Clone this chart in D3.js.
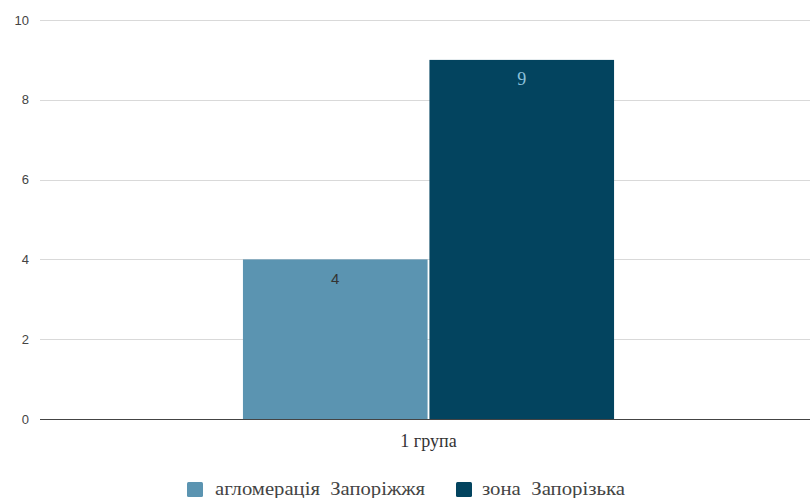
<!DOCTYPE html>
<html><head><meta charset="utf-8">
<script src="https://cdn.jsdelivr.net/npm/d3@7"></script>
<style>body{margin:0;background:#fff;} svg{display:block;}</style>
</head><body>
<svg id="c" width="810" height="498"></svg>
<script>
const categories = ["1 група"];
const seriesNames = ["агломерація  Запоріжжя", "зона  Запорізька"];
const seriesValues = [[4], [9]];
const yTicks = [0, 2, 4, 6, 8, 10];
const colors = ["#5b94b1", "#03445f"];
const labelColors = ["#333333", "#8cc0da"];

const SERIF = "'Liberation Serif'";
const SANS = "'Liberation Sans'";

const svg = d3.select("#c");
const mLeft = 40, mRight = 810, mTop = 20, mBottom = 419;

const y = d3.scaleLinear().domain([0, 10]).range([mBottom, mTop]);
const x0 = d3.scaleBand().domain(categories).range([47, mRight]).paddingInner(0).paddingOuter(0.528);
const x1 = d3.scaleBand().domain(seriesNames).range([0, x0.bandwidth()]).paddingInner(0.01);

// gridlines
svg.append("g").selectAll("line").data(yTicks.filter(d => d !== 0)).join("line")
  .attr("x1", mLeft).attr("x2", mRight)
  .attr("y1", d => Math.round(y(d)) + 0.5).attr("y2", d => Math.round(y(d)) + 0.5)
  .attr("stroke", "#d9d9d9").attr("stroke-width", 1);

// y tick labels
svg.append("g").selectAll("text").data(yTicks).join("text")
  .style("font-family", SANS).style("font-size", "13px")
  .attr("x", 29).attr("y", d => y(d)).attr("dy", "0.35em")
  .attr("text-anchor", "end")
  .attr("fill", "#444").text(d => d);

// bars
const groups = svg.append("g").selectAll("g").data(categories).join("g")
  .attr("transform", d => `translate(${x0(d)},0)`);

seriesNames.forEach((s, i) => {
  groups.append("rect")
    .attr("x", x1(s)).attr("width", x1.bandwidth())
    .attr("y", (d, j) => y(seriesValues[i][j]))
    .attr("height", (d, j) => y(0) - y(seriesValues[i][j]))
    .attr("fill", colors[i]);
  groups.append("text")
    .style("font-family", i === 0 ? SANS : SERIF).style("font-size", i === 0 ? "15px" : "18px")
    .attr("x", x1(s) + x1.bandwidth() / 2)
    .attr("y", (d, j) => y(seriesValues[i][j]) + 25)
    .attr("text-anchor", "middle")
    .attr("fill", labelColors[i])
    .text((d, j) => seriesValues[i][j]);
});

// baseline
svg.append("line").attr("x1", mLeft).attr("x2", mRight)
  .attr("y1", mBottom + 0.5).attr("y2", mBottom + 0.5)
  .attr("stroke", "#444").attr("stroke-width", 1.2);

// x labels
svg.append("g").selectAll("text").data(categories).join("text")
  .style("font-family", SERIF).style("font-size", "18px")
  .attr("x", d => x0(d) + x0.bandwidth() / 2).attr("y", 447)
  .attr("text-anchor", "middle")
  .attr("fill", "#333").text(d => d);

// legend
const legendX = [187, 456];
const legendW = [210, 143];
const lg = svg.append("g").selectAll("g").data(seriesNames).join("g")
  .attr("transform", (d, i) => `translate(${legendX[i]},482)`);
lg.append("rect").attr("width", 16).attr("height", 15).attr("rx", 1.5)
  .attr("fill", (d, i) => colors[i]);
lg.append("text")
  .style("font-family", SERIF).style("font-size", "18px").style("white-space", "pre")
  .attr("x", (d, i) => i === 0 ? 28 : 26).attr("y", 13)
  .attr("textLength", (d, i) => legendW[i]).attr("lengthAdjust", "spacingAndGlyphs")
  .attr("fill", "#444")
  .text(d => d);
</script>
</body></html>
